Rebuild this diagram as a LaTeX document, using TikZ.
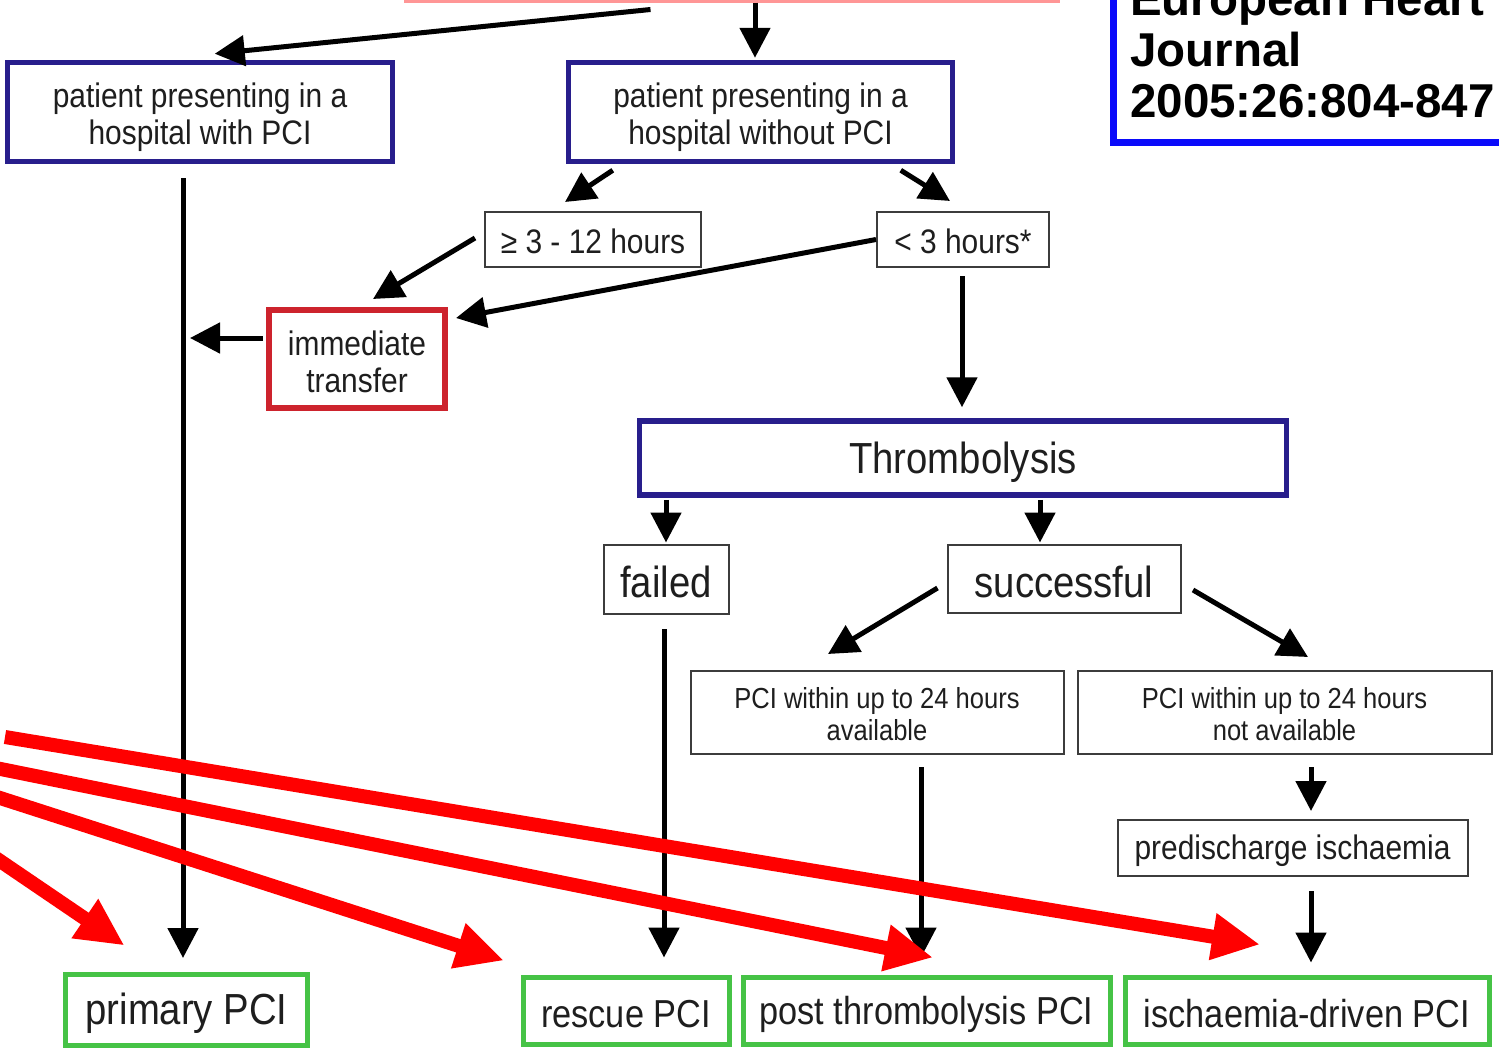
\documentclass[tikz,border=0pt]{standalone}
\usepackage{fontspec}
\setmainfont{Liberation Sans}
\newfontfamily\nf[FakeStretch=0.88]{Liberation Sans}
\newfontfamily\jf{Liberation Sans}
\usetikzlibrary{arrows.meta,calc}
\definecolor{navy}{RGB}{40,30,140}
\definecolor{jblue}{RGB}{10,10,250}
\definecolor{tred}{RGB}{205,35,45}
\definecolor{grn}{RGB}{70,195,70}
\definecolor{gbox}{RGB}{60,60,60}
\definecolor{txt}{RGB}{30,30,30}
\definecolor{pinkc}{RGB}{255,150,150}
\newcommand\myfs[2]{\fontsize{#1}{#2}\selectfont}
\tikzset{
  box/.style={draw=gbox, line width=2pt, inner sep=0pt},
  navybox/.style={box, draw=navy, line width=5.5pt},
  redbox/.style={box, draw=tred, line width=6pt},
  grnbox/.style={box, draw=grn, line width=5pt},
  tx/.style={inner sep=0pt, align=center, text=txt},
  arr/.style={line width=5pt, draw=black, -{Triangle[length=30pt,width=30pt]}},
  rarr/.style={line width=14pt, draw=red, -{Triangle[length=48pt,width=44pt]}},
}
\begin{document}
\begin{tikzpicture}[x=1pt,y=-1pt]
\useasboundingbox (0,0) rectangle (1499,1052);
\fill[white] (0,0) rectangle (1499,1052);
\clip (0,0) rectangle (1499,1052);

% top (cut) box
\node[draw=pinkc, line width=3pt, minimum width=653pt, minimum height=82pt, inner sep=0pt] (top) at (731.5,-40) {};

% journal reference
\node[draw=jblue, line width=7pt, minimum width=450pt, minimum height=220pt, anchor=south west, inner sep=0pt] (J) at (1110,146) {};
\node[anchor=base west, inner sep=0pt, font=\jf\bfseries\myfs{47.5}{51}] (J1) at (1130,15) {European Heart};
\node[anchor=base west, inner sep=0pt, font=\jf\bfseries\myfs{47.5}{51}] (J2) at (1130,66) {Journal};
\node[anchor=base west, inner sep=0pt, font=\jf\bfseries\myfs{47.5}{51}] (J3) at (1130,117) {2005:26:804-847};

% boxes
\node[navybox, minimum width=385pt, minimum height=99pt] (A) at (200,112) {};
\node[navybox, minimum width=384pt, minimum height=99pt] (B) at (760.5,112) {};
\node[box, minimum width=216pt, minimum height=55pt] (GE) at (593,239.5) {};
\node[box, minimum width=172pt, minimum height=55pt] (LT) at (963,239.5) {};
\node[redbox, minimum width=176pt, minimum height=98pt] (IT) at (357,359) {};
\node[navybox, minimum width=647pt, minimum height=74pt] (TH) at (963,458) {};
\node[box, minimum width=125pt, minimum height=69pt] (FA) at (666,579) {};
\node[box, minimum width=233pt, minimum height=68pt] (SU) at (1064,578.5) {};
\node[box, minimum width=373pt, minimum height=83pt] (AV) at (877,712) {};
\node[box, minimum width=414pt, minimum height=83pt] (NA) at (1284.5,712) {};
\node[box, minimum width=350pt, minimum height=56pt] (PD) at (1292.5,847.5) {};
\node[grnbox, minimum width=242pt, minimum height=71pt] (PR) at (186.5,1010) {};
\node[grnbox, minimum width=206pt, minimum height=67pt] (RE) at (626,1011) {};
\node[grnbox, minimum width=367pt, minimum height=67pt] (PO) at (926.5,1011) {};
\node[grnbox, minimum width=364pt, minimum height=67pt] (ID) at (1307,1011) {};

% texts
\node[tx, font=\nf\myfs{34}{37}] (A-t) at ($(A)+(0,5)$) {patient presenting in a\\hospital with PCI};
\node[tx, font=\nf\myfs{34}{37}] (B-t) at ($(B)+(0,5)$) {patient presenting in a\\hospital without PCI};
\node[tx, font=\nf\myfs{34}{37}] (GE-t) at ($(GE)+(0,2)$) {≥ 3 - 12 hours};
\node[tx, font=\nf\myfs{34}{37}] (LT-t) at ($(LT)+(0,2)$) {< 3 hours*};
\node[tx, font=\nf\myfs{34}{37}] (IT-t) at ($(IT)+(0,3)$) {immediate\\transfer};
\node[tx, font=\nf\myfs{43.5}{46}] (TH-t) at ($(TH)+(0,4)$) {Thrombolysis};
\node[tx, font=\nf\myfs{43.5}{46}] (FA-t) at ($(FA)+(0,3)$) {failed};
\node[tx, font=\nf\myfs{43.5}{46}] (SU-t) at ($(SU)+(0,3)$) {successful};
\node[tx, font=\nf\myfs{29}{32}] (AV-t) at ($(AV)+(0,2)$) {PCI within up to 24 hours\\available};
\node[tx, font=\nf\myfs{29}{32}] (NA-t) at ($(NA)+(0,2)$) {PCI within up to 24 hours\\not available};
\node[tx, font=\nf\myfs{34}{37}] (PD-t) at ($(PD)+(0,3)$) {predischarge ischaemia};
\node[tx, font=\nf\myfs{43.5}{46}] (PR-t) at ($(PR)+(0,3)$) {primary PCI};
\node[tx, font=\nf\myfs{39}{42}] (RE-t) at ($(RE)+(0,3)$) {rescue PCI};
\node[tx, font=\nf\myfs{39}{42}] (PO-t) at ($(PO)+(0,3)$) {post thrombolysis PCI};
\node[tx, font=\nf\myfs{39}{42}] (ID-t) at ($(ID)+(0,3)$) {ischaemia-driven PCI};

% black connectors
\draw[arr] ($(top.south)+(-81,7)$) -- ($(A.north west)+(210,-6)$);
\draw[arr] ($(top.south)+(23.5,0)$) -- ($(B.north)+(-5.5,-2)$);
\draw[arr] ($(B.south west)+(47,6)$) -- ($(GE.north)+(-28,-9)$);
\draw[arr] ($(B.south east)+(-54.5,6)$) -- ($(LT.north)+(-13,-10)$);
\draw[arr] ($(GE.west)+(-9,-1.5)$) -- ($(IT.north)+(16,-8)$);
\draw[arr] (LT.west) -- ($(IT.east)+(8,-41)$);
\draw[arr] ($(LT.south)+(-1,8)$) -- ($(TH.north)+(-1,-11)$);
\coordinate (itl) at (190,338);
\draw[arr] ($(IT.west)+(-3,-21)$) -- (itl);
\draw[arr] ($(A.south)+(-17,14)$) -- ($(PR.north)+(-3.5,-14)$);
\draw[arr] ($(TH.south -| FA.north)+(0,2)$) -- ($(FA.north)+(0,-1)$);
\draw[arr] ($(TH.south)+(77,2)$) -- ($(SU.north)+(-24,-1)$);
\draw[arr] ($(SU.west)+(-9,9.5)$) -- ($(AV.north)+(-49,-15.5)$);
\draw[arr] ($(SU.east)+(11.5,11.5)$) -- ($(NA.north)+(23.5,-12.5)$);
\draw[arr] ($(FA.south)+(-2,14.5)$) -- ($(RE.north)+(38,-17.5)$);
\draw[arr] ($(AV.south)+(44,12.5)$) -- ($(PO.north)+(-5.5,-17.5)$);
\draw[arr] ($(NA.south)+(26.5,12.5)$) -- ($(PD.north)+(18.5,-7.5)$);
\draw[arr] ($(PD.south)+(18.5,14.5)$) -- ($(ID.north)+(4,-12.5)$);

% red annotation arrows
\coordinate (r1) at (5,737);
\coordinate (r2) at (-20,764.8);
\coordinate (r3) at (-20,791.5);
\coordinate (r4) at (-20,847.3);
\draw[rarr] (r1) -- ($(ID.north west)+(137.5,-30.5)$);
\draw[rarr] (r2) -- ($(PO.north)+(6.5,-17.5)$);
\draw[rarr] (r3) -- ($(RE.north west)+(-16.5,-14.5)$);
\draw[rarr] (r4) -- ($(PR.north west)+(61.5,-26.5)$);
\end{tikzpicture}
\end{document}
